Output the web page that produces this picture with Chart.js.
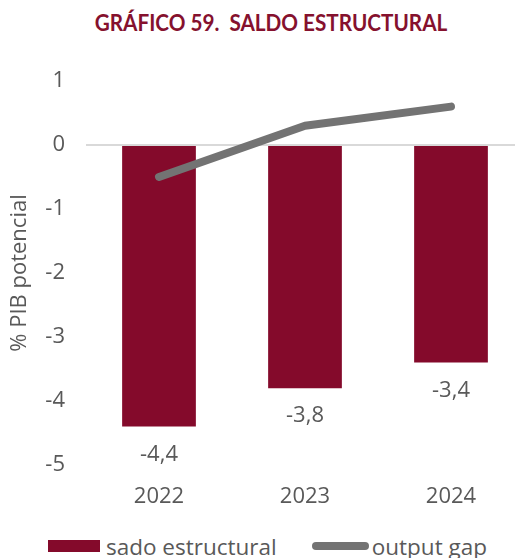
<!DOCTYPE html>
<html lang="es">
<head>
<meta charset="utf-8">
<title>Saldo estructural</title>
<script src="https://cdn.jsdelivr.net/npm/chart.js@4.4.1/dist/chart.umd.min.js"></script>
<style>
  html, body { margin: 0; padding: 0; background: #fff; }
  body { width: 515px; height: 558px; overflow: hidden; position: relative; }
  #title {
    position: absolute; top: 9px; left: 71px; width: 400px;
    text-align: center; white-space: pre; line-height: 1.2;
    font-family: "Lato", sans-serif; font-weight: 700; font-size: 23px;
    color: #85112E; transform: scaleX(0.9); transform-origin: 50% 50%;
  }
  #wrap { position: absolute; left: 0; top: 0; width: 525px; height: 530px; }
  #legend {
    position: absolute; left: 48px; top: 532px; height: 28px;
    font-family: "Open Sans", sans-serif; font-size: 22.5px; color: #595959;
    display: flex; align-items: center; white-space: nowrap;
  }
  .swatch-bar { display: inline-block; width: 52px; height: 12px; margin-right: 6px; }
  .swatch-line { display: inline-block; width: 57px; height: 8px; border-radius: 4px; margin-left: 35px; margin-right: 3px; }
</style>
</head>
<body>
<div id="title">GRÁFICO 59.  SALDO ESTRUCTURAL</div>
<div id="wrap"><canvas id="chart" width="525" height="530"></canvas></div>
<div id="legend"></div>
<script>
// Years on the category axis
const years = ['2022', '2023', '2024'];
// Structural balance, % of potential GDP
const saldoEstructural = [-4.4, -3.8, -3.4];
// Output gap, % of potential GDP
const outputGap = [-0.5, 0.3, 0.6];
// Y axis ticks
const yTicks = [1, 0, -1, -2, -3, -4, -5];
const seriesNames = ['sado estructural', 'output gap'];
const yTitle = '% PIB potencial';

const RED = '#840A2B';
const GREY = '#737373';
const TEXT = '#595959';
const FONT = '"Open Sans", sans-serif';

// Value labels under each bar, written with a decimal comma
const barValueLabels = {
  id: 'barValueLabels',
  afterDatasetsDraw(chart) {
    const ctx = chart.ctx;
    const meta = chart.getDatasetMeta(1);
    ctx.save();
    ctx.font = '22px ' + FONT;
    ctx.fillStyle = TEXT;
    ctx.textAlign = 'center';
    ctx.textBaseline = 'middle';
    meta.data.forEach((bar, i) => {
      const v = chart.data.datasets[1].data[i];
      ctx.fillText(v.toFixed(1).replace('.', ','), bar.x, bar.y + 28);
    });
    ctx.restore();
  }
};

const chart = new Chart(document.getElementById('chart'), {
  data: {
    labels: years,
    datasets: [
      {
        type: 'line',
        label: seriesNames[1],
        data: outputGap,
        borderColor: GREY,
        backgroundColor: GREY,
        borderWidth: 8,
        borderCapStyle: 'round',
        borderJoinStyle: 'round',
        pointRadius: 0,
        tension: 0,
        order: 0
      },
      {
        type: 'bar',
        label: seriesNames[0],
        data: saldoEstructural,
        backgroundColor: RED,
        borderWidth: 0,
        barPercentage: 1,
        categoryPercentage: 0.505,
        order: 1
      }
    ]
  },
  options: {
    responsive: false,
    animation: false,
    layout: { padding: { top: 81, right: 1, left: 0, bottom: 0 } },
    plugins: {
      legend: { display: false },
      title: { display: false },
      tooltip: { enabled: false }
    },
    scales: {
      x: {
        grid: { display: false, drawTicks: false },
        border: { display: false },
        ticks: { color: TEXT, font: { family: FONT, size: 22 }, padding: 19 },
        afterFit(scale) { scale.height = 65; }
      },
      y: {
        min: -5,
        max: 1,
        afterBuildTicks(scale) { scale.ticks = yTicks.map(v => ({ value: v })); },
        ticks: { color: TEXT, font: { family: FONT, size: 22 }, padding: 21 },
        grid: {
          drawTicks: false,
          lineWidth: 2,
          color: c => (c.tick && c.tick.value === 0 ? '#D9D9D9' : 'rgba(0,0,0,0)')
        },
        border: { display: false },
        title: {
          display: true,
          text: yTitle,
          color: TEXT,
          font: { family: FONT, size: 22 },
          padding: { top: 7, bottom: 0 }
        },
        afterFit(scale) { scale.width = 86; }
      }
    }
  },
  plugins: [barValueLabels]
});

// Legend row built from the dataset styles
const legend = document.getElementById('legend');
const barItem = document.createElement('span');
barItem.className = 'swatch-bar';
barItem.style.background = RED;
legend.appendChild(barItem);
legend.appendChild(document.createTextNode(seriesNames[0]));
const lineItem = document.createElement('span');
lineItem.className = 'swatch-line';
lineItem.style.background = GREY;
legend.appendChild(lineItem);
legend.appendChild(document.createTextNode(seriesNames[1]));
</script>
</body>
</html>
